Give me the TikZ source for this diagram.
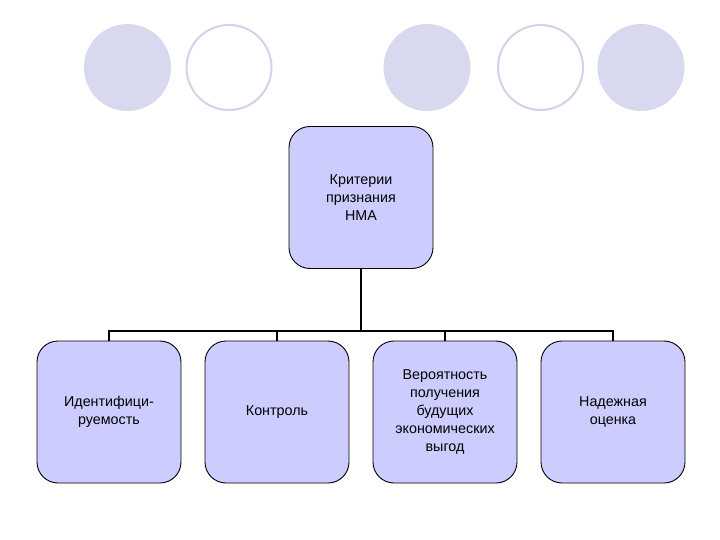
\documentclass[tikz,border=0pt]{standalone}
\usepackage{fontspec}
\setmainfont{Liberation Sans}
\definecolor{boxfill}{HTML}{CCCCFF}
\definecolor{dotfill}{HTML}{D8D8EE}
\definecolor{dotline}{HTML}{D2D2EA}
\begin{document}
\begin{tikzpicture}[x=1pt,y=-1pt,
  critbox/.style={draw=black, line width=0.9pt, fill=boxfill, rounded corners=21pt,
    minimum width=144pt, minimum height=142pt, inner sep=0pt,
    align=center, font=\fontsize{14.3}{18.2}\selectfont},
  link/.style={draw=black, line width=2pt}]
\useasboundingbox[fill=white] (0,0) rectangle (720,540);

% decorative circles
\fill[dotfill] (127.5,67.5) circle [x radius=43.5, y radius=43.5];
\draw[dotline, line width=2pt, fill=white] (229,67.5) circle [x radius=42.5, y radius=42.5];
\fill[dotfill] (427,67.5) circle [x radius=43.5, y radius=43.5];
\draw[dotline, line width=2pt, fill=white] (540.5,67.5) circle [x radius=42.5, y radius=42.5];
\fill[dotfill] (641,67.5) circle [x radius=43.5, y radius=43.5];

% boxes
\node[critbox] (top) at (361,197.5) {Критерии\\признания\\НМА};
\node[critbox] (ident) at (109,412) {Идентифици-\\руемость};
\node[critbox] (control) at (277,412) {Контроль};
\node[critbox] (prob) at (445,412) {Вероятность\\получения\\будущих\\экономических\\выгод};
\node[critbox] (estim) at (613,412) {Надежная\\оценка};

% connectors
\coordinate (bus) at (361,331);
\draw[link] (top.south) -- (bus);
\draw[link] (ident.north) |- (estim.north |- bus) -- (estim.north);
\draw[link] (control.north) -- (control.north |- bus);
\draw[link] (prob.north) -- (prob.north |- bus);
\end{tikzpicture}
\end{document}
